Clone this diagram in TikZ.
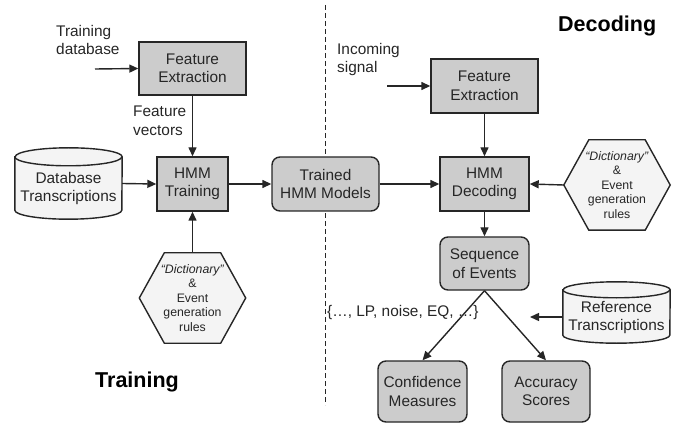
\documentclass[tikz,border=0pt]{standalone}
\usepackage{fontspec}
\setmainfont{Liberation Sans}
\usetikzlibrary{arrows.meta,calc,backgrounds}
\definecolor{boxgray}{HTML}{CCCCCC}
\definecolor{paleFill}{HTML}{F4F4F4}
\definecolor{ink}{HTML}{262626}

% cylinder outline around a node: #1 node, #2 half width, #3 ellipse y radius
\newcommand\drawcyl[3]{%
  \path[shapeline] ($(#1.north west)+(0,#3)$) -- ($(#1.south west)+(0,-#3)$)
    arc[start angle=180,end angle=0,x radius=#2,y radius=#3]
    -- ($(#1.north east)+(0,#3)$)
    arc[start angle=0,end angle=-180,x radius=#2,y radius=#3] -- cycle;
  \draw[ink, line width=1.4pt] ($(#1.north west)+(0,#3)$)
    arc[start angle=180,end angle=0,x radius=#2,y radius=#3];}

% flat-topped hexagon around a node
\newcommand\drawhex[1]{%
  \path[shapeline] (#1.west) -- ($(#1.north west)+(25,0)$) -- ($(#1.north east)+(-25,0)$)
    -- (#1.east) -- ($(#1.south east)+(-25,0)$) -- ($(#1.south west)+(25,0)$) -- cycle;}

\begin{document}
\begin{tikzpicture}[x=1pt,y=-1pt,
  every node/.style={inner sep=0pt, align=center, text=ink},
  txt/.style={font=\fontsize{15.4}{18.5}\selectfont},
  small/.style={font=\fontsize{12.3}{14.5}\selectfont},
  head/.style={font=\fontsize{21.5}{24}\selectfont\bfseries, text=black},
  procbox/.style={txt, draw=ink, fill=boxgray, line width=1.4pt},
  roundbox/.style={procbox, rounded corners=8pt},
  shapeline/.style={draw=ink, fill=paleFill, line width=1.4pt},
  flow/.style={-{Triangle[length=9pt,width=8pt]}, ink, line width=1.4pt},
  divider/.style={ink, line width=1pt, dash pattern=on 5pt off 3pt},
]
\useasboundingbox (0,0) rectangle (684,427);

% processing blocks
\node[procbox, minimum width=107pt, minimum height=53pt] (feL) at (192.5,68.5) {Feature\\Extraction};
\node[procbox, minimum width=71pt, minimum height=54pt] (hmmT) at (192.5,184) {HMM\\Training};
\node[roundbox, minimum width=107pt, minimum height=54pt] (trained) at (325.5,184) {Trained\\HMM Models};
\node[procbox, minimum width=107pt, minimum height=54pt] (feR) at (484.5,86) {Feature\\Extraction};
\node[procbox, minimum width=89pt, minimum height=54pt] (hmmD) at (484.5,184) {HMM\\Decoding};
\node[roundbox, minimum width=89pt, minimum height=53pt] (seq) at (484.5,263.5) {Sequence\\of Events};
\node[roundbox, minimum width=89pt, minimum height=61pt] (conf) at (422.5,391.5) {Confidence\\Measures};
\node[roundbox, minimum width=88pt, minimum height=61pt] (acc) at (546,391.5) {Accuracy\\Scores};

% data stores
\node[minimum width=107pt, minimum height=71pt] (db) at (68.5,183.5) {};
\node[txt] (dbtext) at ([yshift=-5pt]db.center) {Database\\Transcriptions};
\node[minimum width=107pt, minimum height=61pt] (ref) at (616.5,312.5) {};
\node[txt] (reftext) at ([yshift=-5pt]ref.center) {Reference\\Transcriptions};

% rule sets
\node[small, minimum width=106pt, minimum height=90pt] (dictL) at (192.5,298)
  {\textit{“Dictionary”}\\\&\\Event\\generation\\rules};
\node[small, minimum width=106pt, minimum height=90pt] (dictR) at (617,185)
  {\textit{“Dictionary”}\\\&\\Event\\generation\\rules};

% free labels
\node[txt, align=left, anchor=north west] (tdb) at (56,25) {Training\\database};
\node[txt, align=left, anchor=north west] (fv) at (133,106) {Feature\\vectors};
\node[txt, align=left, anchor=north west] (sig) at (337,43) {Incoming\\signal};
\node[txt, anchor=base west] (evts) at (327,316) {\{…, LP, noise, EQ, …\}};
\node[head, anchor=base west] (trainhead) at (95,387) {Training};
\node[head, anchor=base west] (dechead) at (558,32) {Decoding};

\coordinate (tdbEnd) at (95,69);
\coordinate (sigEnd) at (387,86);
\coordinate (refEnd) at (530,317);
\coordinate (divTop) at (325,5);
\coordinate (divBot) at (325,405);

\begin{scope}[on background layer]
  \draw[divider] (divTop) -- (divBot);
  \drawcyl{db}{53.5}{9}
  \drawcyl{ref}{53.5}{8}
  \drawhex{dictL}
  \drawhex{dictR}
\end{scope}

% connectors
\draw[flow] (tdbEnd) -- (feL.west);
\draw[flow] (feL.south) -- (hmmT.north);
\draw[flow] (db.east) -- (hmmT.west);
\draw[flow] (dictL.north) -- (hmmT.south);
\draw[flow] (hmmT.east) -- (trained.west);
\draw[flow] (trained.east) -- (hmmD.west);
\draw[flow] (sigEnd) -- (feR.west);
\draw[flow] (feR.south) -- (hmmD.north);
\draw[flow] (dictR.west) -- (hmmD.east);
\draw[flow] (hmmD.south) -- (seq.north);
\draw[flow] (seq.south) -- (conf.north);
\draw[flow] (seq.south) -- (acc.north);
\draw[flow] ([yshift=-4.5pt]ref.west) -- (refEnd);
\end{tikzpicture}
\end{document}
